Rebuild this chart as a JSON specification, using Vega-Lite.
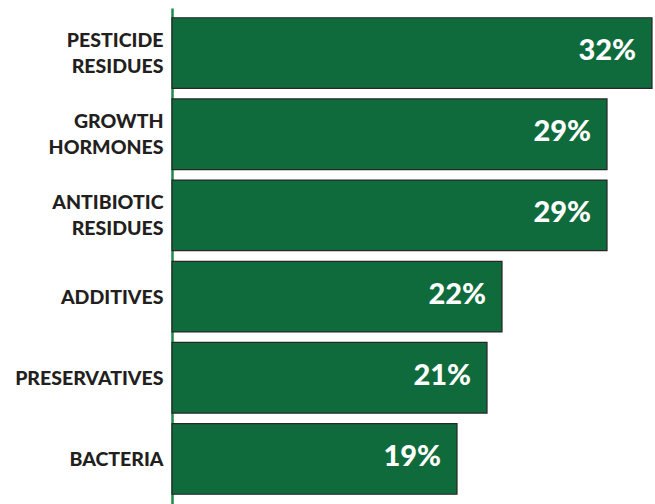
{
  "$schema": "https://vega.github.io/schema/vega-lite/v6.json",
  "autosize": "none",
  "width": 480,
  "height": 496,
  "padding": {"left": 172, "top": 8, "right": 3, "bottom": 0},
  "background": "white",
  "config": {"view": {"stroke": null}},
  "data": {
    "values": [
      {"concern": "PESTICIDE|RESIDUES", "share": 0.32},
      {"concern": "GROWTH|HORMONES", "share": 0.29},
      {"concern": "ANTIBIOTIC|RESIDUES", "share": 0.29},
      {"concern": "ADDITIVES", "share": 0.22},
      {"concern": "PRESERVATIVES", "share": 0.21},
      {"concern": "BACTERIA", "share": 0.19}
    ]
  },
  "encoding": {
    "y": {
      "field": "concern",
      "type": "nominal",
      "sort": null,
      "title": null,
      "scale": {"paddingInner": 0.13, "paddingOuter": 0.12},
      "axis": {
        "labelExpr": "split(datum.label, '|')",
        "labelFont": "Lato",
        "labelFontWeight": 900,
        "labelFontSize": 19.5,
        "labelLineHeight": 26,
        "labelColor": "#231f20",
        "labelPadding": 9,
        "labelLimit": 200,
        "labelOffset": {"condition": {"test": "indexof(datum.value, '|') >= 0", "value": -12}, "value": 1},
        "ticks": false,
        "domainColor": "#1f8a4c",
        "domainWidth": 2.5,
        "grid": false
      }
    },
    "x": {
      "field": "share",
      "type": "quantitative",
      "scale": {"domain": [0, 0.32], "nice": false},
      "axis": null
    }
  },
  "layer": [
    {
      "mark": {"type": "bar", "color": "#0f6b3b", "stroke": "#262626", "strokeWidth": 1.2}
    },
    {
      "mark": {
        "type": "text",
        "align": "right",
        "baseline": "alphabetic",
        "dx": -16,
        "dy": 7,
        "font": "Lato",
        "fontWeight": 900,
        "fontSize": 29,
        "color": "white"
      },
      "encoding": {
        "text": {"field": "share", "type": "quantitative", "format": ".0%"}
      }
    }
  ]
}
